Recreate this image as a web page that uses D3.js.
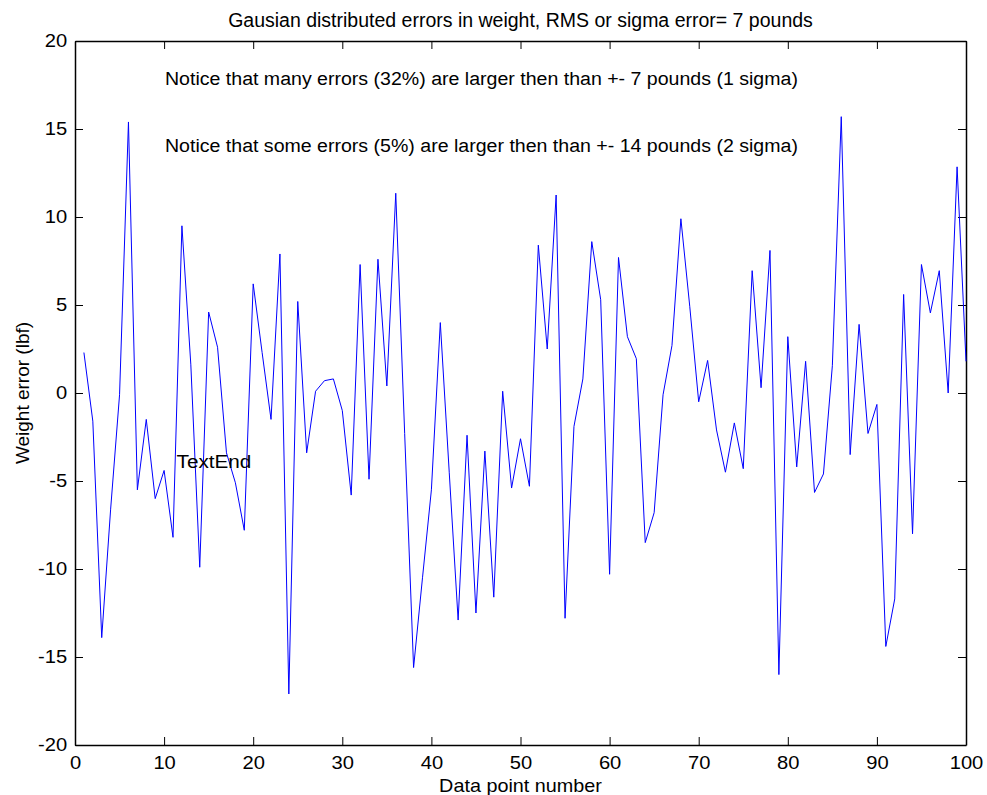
<!DOCTYPE html>
<html>
<head>
<meta charset="utf-8">
<script src="https://cdn.jsdelivr.net/npm/d3@7"></script>
<style>
  body { margin: 0; background: #fff; }
  svg { display: block; font-family: "Liberation Sans", Arial, sans-serif; }
</style>
</head>
<body>
<div id="chart"></div>
<script>
// weight error per data point (lbf)
const errors = [
  2.3, -1.6, -13.9, -6.6, -0.1, 15.4, -5.5, -1.5, -6.0, -4.4,
  -8.2, 9.5, 1.6, -9.9, 4.6, 2.6, -3.4, -5.1, -7.8, 6.2,
  2.3, -1.5, 7.9, -17.1, 5.2, -3.4, 0.1, 0.7, 0.8, -1.0,
  -5.8, 7.3, -4.9, 7.6, 0.4, 11.35, -2.3, -15.6, -10.5, -5.5,
  4.0, -4.5, -12.9, -2.4, -12.5, -3.3, -11.6, 0.1, -5.4, -2.6,
  -5.3, 8.4, 2.5, 11.25, -12.8, -1.9, 0.8, 8.6, 5.3, -10.3,
  7.7, 3.2, 1.95, -8.5, -6.8, -0.1, 2.7, 9.9, 4.9, -0.5,
  1.85, -2.1, -4.5, -1.7, -4.3, 6.95, 0.3, 8.1, -16.0, 3.2,
  -4.2, 1.8, -5.65, -4.6, 1.55, 15.7, -3.5, 3.9, -2.3, -0.65,
  -14.4, -11.7, 5.6, -8.0, 7.3, 4.55, 6.95, 0.0, 12.85, 1.8
];
const pointNumbers = errors.map((d, i) => i + 1);
const xTicks = [0, 10, 20, 30, 40, 50, 60, 70, 80, 90, 100];
const yTicks = [-20, -15, -10, -5, 0, 5, 10, 15, 20];

const titleText = "Gausian distributed errors in weight, RMS or sigma error= 7 pounds";
const xLabel = "Data point number";
const yLabel = "Weight error (lbf)";
const notes = [
  { x: 10.1, y: 17.8, text: "Notice that many errors (32%) are larger then than +- 7 pounds (1 sigma)" },
  { x: 10.1, y: 13.95, text: "Notice that some errors (5%) are larger then than +- 14 pounds (2 sigma)" },
  { x: 11.4, y: -3.95, text: "TextEnd" }
];

const W = 987, H = 795;
const margin = { top: 41, right: 21, bottom: 50, left: 75 };
const width = W - margin.left - margin.right;
const height = H - margin.top - margin.bottom;

const svg = d3.select("#chart").append("svg")
  .attr("width", W).attr("height", H);
const g = svg.append("g")
  .attr("transform", `translate(${margin.left},${margin.top})`);

const x = d3.scaleLinear().domain([0, 100]).range([0, width]);
const y = d3.scaleLinear().domain([-20, 20]).range([height, 0]);

// box with inward ticks on all four sides
const tl = 8;
const fmt = d => String(d); // plain hyphen minus like the original
g.append("g").attr("transform", `translate(0,${height})`)
  .call(d3.axisBottom(x).tickValues(xTicks).tickSizeInner(-tl).tickSizeOuter(0).tickPadding(11).tickFormat(fmt));
g.append("g")
  .call(d3.axisTop(x).tickValues(xTicks).tickSizeInner(-tl).tickSizeOuter(0).tickFormat(""));
g.append("g")
  .call(d3.axisLeft(y).tickValues(yTicks).tickSizeInner(-tl).tickSizeOuter(0).tickPadding(7).tickFormat(fmt));
g.append("g").attr("transform", `translate(${width},0)`)
  .call(d3.axisRight(y).tickValues(yTicks).tickSizeInner(-tl).tickSizeOuter(0).tickFormat(""));

g.selectAll(".domain").attr("stroke", "#000").attr("stroke-width", 1.5);
g.selectAll(".tick line").attr("stroke", "#000");
g.selectAll(".tick text").attr("font-size", 18).attr("fill", "#000")
  .attr("font-family", "Liberation Sans, Arial, sans-serif")
  .attr("transform", "scale(1.12,1)");

g.append("path")
  .datum(errors)
  .attr("fill", "none")
  .attr("stroke", "#0000ff")
  .attr("stroke-width", 1)
  .attr("d", d3.line().x((d, i) => x(pointNumbers[i])).y(d => y(d)));

g.selectAll(".note").data(notes).join("text")
  .attr("class", "note")
  .attr("transform", (d, i) => `translate(${x(d.x)},${y(d.y)}) scale(${i == 2 ? 1.09 : 1.03},1)`)
  .attr("font-size", 19)
  .attr("dominant-baseline", "middle")
  .text(d => d.text);

svg.append("text")
  .attr("x", margin.left + width / 2).attr("y", 27)
  .attr("text-anchor", "middle").attr("font-size", 19.5)
  .text(titleText);

svg.append("text")
  .attr("transform", `translate(${margin.left + width / 2},792) scale(1.1,1)`)
  .attr("text-anchor", "middle").attr("font-size", 18)
  .text(xLabel);

svg.append("text")
  .attr("transform", `translate(29,${margin.top + height / 2}) rotate(-90)`)
  .attr("text-anchor", "middle").attr("font-size", 19)
  .text(yLabel);
</script>
</body>
</html>
